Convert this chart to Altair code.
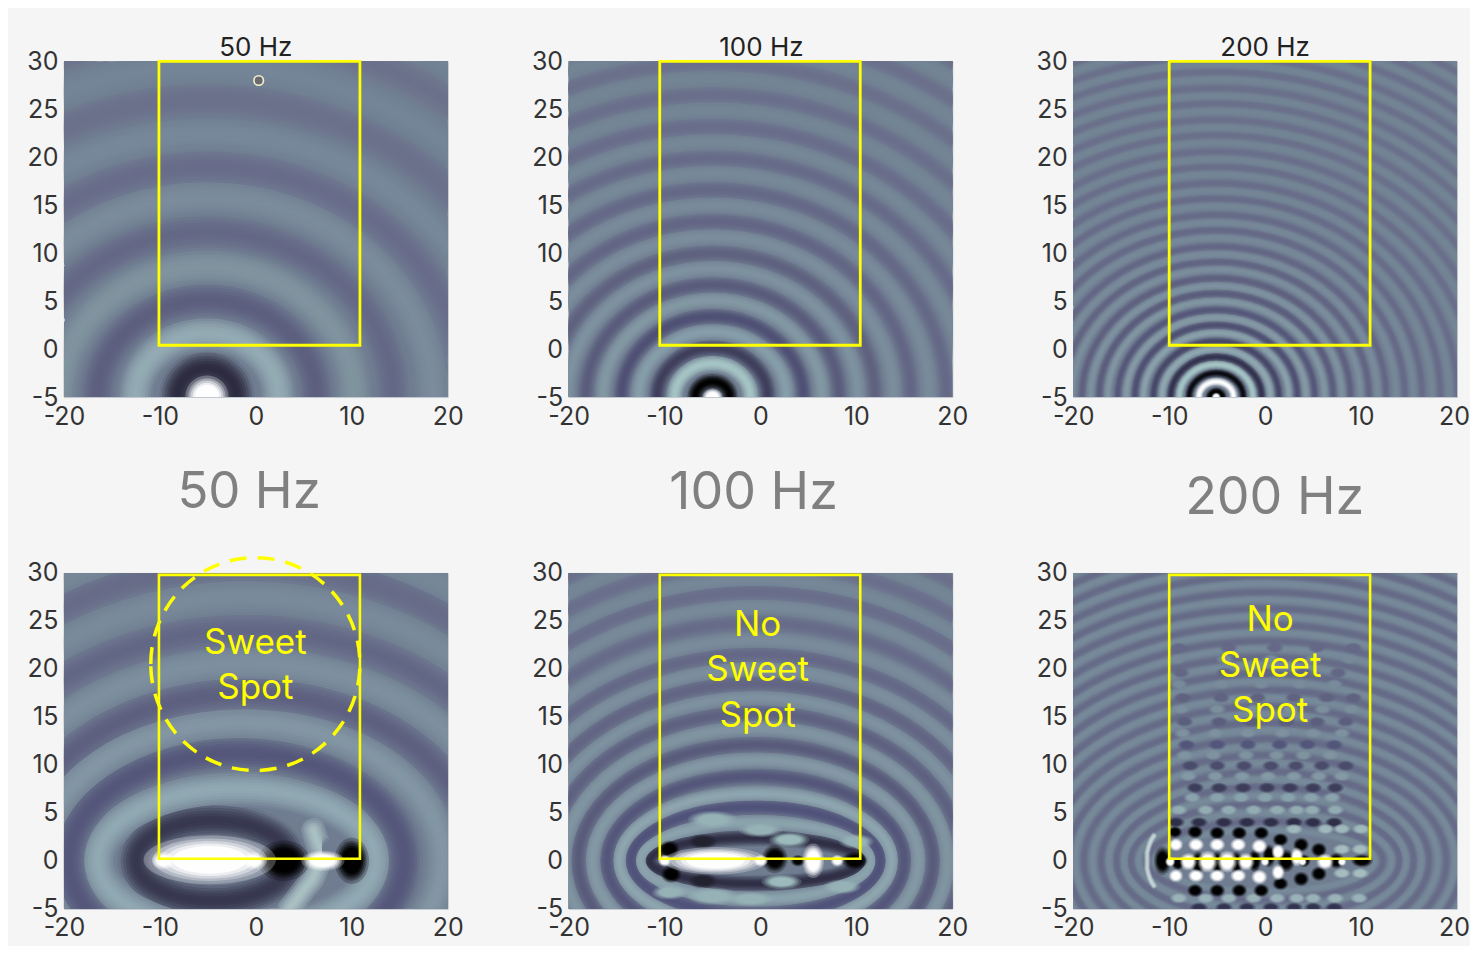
import math
import altair as alt
import pandas as pd

# ---------- values (data units of the panels) ----------
X_TICKS = [-20, -10, 0, 10, 20]
Y_TICKS = [-5, 0, 5, 10, 15, 20, 25, 30]
FIELD = "#707d91"

# top row: concentric crests around the source (vertical radius, colour)
T50_B = [3.0, 6.6, 10.1, 13.6, 17.2, 20.8, 24.0, 27.4, 31.0, 34.4, 38.0, 41.4]
T50_C = ["#2d2b3f", "#93abb3", "#5d5f7f", "#80949f", "#646886", "#7b8c9c", "#686c8a", "#768899", "#6b708b", "#738597", "#6c718b", "#728496"]
T100_B = [1.6, 3.5, 5.1, 6.8, 8.4, 10.1, 11.7, 13.4, 15.0, 16.7, 18.3, 20.0, 21.6, 23.3, 24.9, 26.6, 28.2, 29.9, 31.5, 33.2, 34.8, 36.5, 38.1, 39.8, 41.4]
T100_C = ["#000000", "#a5c4c4", "#3f3f5c", "#869ea9", "#4f5074", "#8298a3", "#5a5c7c", "#7e92a0", "#5f627f", "#7b8e9d",
          "#636685", "#798b9b", "#656987", "#778999", "#676b89", "#768898", "#696d8a", "#748696", "#6a6f8b", "#738595", "#6b708b",
          "#738595", "#6b708b", "#738595", "#6b708b"]
T200_B = [0.6, 1.6, 2.5, 3.4, 4.2, 5.0, 5.8, 6.7, 7.5, 8.3, 9.1, 10.0, 10.8, 11.6, 12.4, 13.3, 14.1, 14.9, 15.7, 16.6,
          17.4, 18.2, 19.0, 19.9, 20.7, 21.5, 22.3, 23.2, 24.0, 24.8, 25.6, 26.5, 27.3, 28.1, 28.9, 29.8, 30.6, 31.4, 32.2, 33.1, 33.9, 34.7,
          35.5, 36.4, 37.2, 38.0, 38.8, 39.7, 40.5, 41.3]
T200_C = ["#000000", "#ffffff", "#0a0a12", "#a5c5c5", "#33334e", "#8fa8b0", "#474868", "#8aa1ab", "#4f5072", "#859aa5",
          "#56587a", "#8196a2", "#5b5d7c", "#7e92a0", "#5f617f", "#7b8e9d", "#626582", "#798b9b", "#646785", "#778999",
          "#666a87", "#768898", "#676b88", "#758797", "#686c89", "#748696", "#696d8a", "#748696", "#6a6e8a", "#738595",
          "#6a6f8b", "#738595", "#6b708b", "#738595", "#6b708b", "#738595", "#6b708b", "#738595", "#6b708b", "#738595", "#6b708b", "#738595",
          "#6b708b", "#738595", "#6b708b", "#738595", "#6b708b", "#738595", "#6b708b", "#738595"]

# bottom row: oval crests (centre x, horizontal radius, vertical radius, colour)
B50_RINGS = [(-4.5, 8.0, 4.2, "#37374f"), (-2, 14.5, 7.5, "#90a9b2"), (-2, 17.5, 11.2, "#54567a"), (-1.5, 21, 14.4, "#8296a3"),
             (-1, 24, 17.4, "#5e6080"), (-1, 27.5, 20.6, "#7d909f"), (-1, 31, 24, "#636786"), (-1, 34, 27.5, "#798b9b"),
             (-1, 37, 30.8, "#676b88"), (-1, 40, 33.5, "#768898"), (-1, 43, 36.8, "#6a6e8a")]
B100_RINGS = [(-0.5, 11, 2.4, "#2f2e45"), (-0.5, 12, 4.0, "#8ba3ad"), (-0.5, 13, 5.6, "#50527a"), (-0.5, 14.2, 7.0, "#8ea6af"),
              (-0.5, 15.5, 8.8, "#54567a"), (-0.5, 17, 10.5, "#8499a5"), (-0.5, 18.5, 12.1, "#595b7b"), (-0.5, 20, 13.8, "#8095a1"),
              (-0.5, 21.5, 15.4, "#5e6180"), (-0.5, 23, 17, "#7e92a0"), (-0.5, 24.5, 18.5, "#626583"), (-0.5, 26, 20, "#7c8f9e"),
              (-0.5, 27.5, 21.5, "#656887"), (-0.5, 29, 23, "#7a8c9c"), (-0.5, 30.5, 24.8, "#676b89"), (-0.5, 32, 26.5, "#788a9a"),
              (-0.5, 33.5, 28, "#696d8a"), (-0.5, 35, 29.3, "#768898"), (-0.5, 36.5, 31, "#6a6f8b"), (-0.5, 38, 32.5, "#748696"),
              (-0.5, 39.5, 34, "#6b708b"), (-0.5, 41, 35.5, "#738595")]
B200_A = [11.4, 12.3, 13.2, 14.0, 14.7, 15.5, 16.3, 17.1, 18.0, 18.9, 19.8, 20.6, 21.5, 22.3, 23.2, 24.0, 24.9, 25.7, 26.6, 27.4,
          28.3, 29.1, 30.0, 30.8, 31.7, 32.5, 33.4, 34.2, 35.1, 35.9, 36.8, 37.6, 38.5, 39.3, 40.2, 41.0, 41.9]
B200_B = [3.2, 4.1, 5.0, 5.9, 6.8, 7.7, 8.5, 9.3, 10.2, 11.0, 11.9, 12.7, 13.6, 14.4, 15.3, 16.1, 17.0, 17.8, 18.7, 19.5,
          20.4, 21.2, 22.1, 22.9, 23.8, 24.6, 25.5, 26.3, 27.2, 28.0, 28.9, 29.7, 30.6, 31.4, 32.3, 33.1, 34.0]

# curved bright streaks: (colour, [(x, y), ...])
B50_STREAKS = [("#b4cdcc", [(6, 3.2), (6.9, 1.2), (6.3, -1), (5, -3), (3.5, -5)])]
B200_STREAKS = [("#d8e6e4", [(-11.6, 2.6), (-12.3, 0.8), (-12.3, -0.8), (-11.6, -2.6)])]

# spots: (x, y, horizontal radius, vertical radius, colour)
T50_SPOTS = [(-5.1, -5, 1.5, 1.5, "#ffffff")]
T100_SPOTS = [(-5, -5, 0.7, 0.6, "#ffffff")]
T200_SPOTS = [(-5.1, -5, 0.3, 0.3, "#ffffff")]
B50_SPOTS = [(2.9, 0, 1.8, 1.4, "#000000"), (10, 0, 1.2, 1.6, "#000000"), (-4.8, 0.1, 4.6, 1.7, "#ffffff"), (-9.6, 0, 0.8, 0.6, "#ffffff"),
             (-0.2, 0, 0.8, 0.6, "#ffffff"), (7, 0, 1.5, 0.7, "#ffffff")]
B100_SPOTS = [(-5, 4.3, 1.7, 0.6, "#97b2b6"), (-5, -3.7, 1.7, 0.6, "#97b2b6"), (0, 3.2, 1.5, 0.5, "#97b2b6"), (3, 2.2, 1.4, 0.5, "#9dbabc"),
              (2.2, -2.2, 1.4, 0.5, "#9dbabc"), (-1, -4, 1.5, 0.5, "#97b2b6"), (-9.5, -3.3, 1.2, 0.5, "#97b2b6"), (10, 2, 1.2, 0.5, "#97b2b6"), (8.5, -2.7, 1.3, 0.5, "#97b2b6"),
              (-9.5, 1.2, 0.7, 0.6, "#000000"), (-9.3, -1.4, 0.7, 0.6, "#000000"), (-6, 2, 1.0, 0.5, "#22222f"), (-6, -2.1, 1.0, 0.5, "#22222f"),
              (1.5, 0.2, 0.9, 1.0, "#000000"), (3.9, 0, 0.5, 0.4, "#000000"), (9.8, 0, 0.9, 0.6, "#000000"),
              (-4.7, 0, 3.6, 0.95, "#ffffff"), (-10, 0, 0.45, 0.4, "#ffffff"), (0, 0, 0.5, 0.4, "#ffffff"), (5.5, 0, 0.75, 1.2, "#ffffff"), (8, 0, 0.45, 0.4, "#ffffff")]
B200_BLACK = [(-10.7, 0, 0.6, 1.0), (-9.1, -0.3, 0.45, 0.45), (-7, -0.2, 0.45, 0.8), (-5, -0.2, 0.45, 0.8), (-3, -0.2, 0.45, 0.8), (-1.1, 0, 0.45, 0.8),
              (0.4, 0.5, 0.45, 0.8), (2.2, 0, 0.6, 0.8), (4.06, 0, 0.45, 0.45), (7.4, 0, 0.55, 0.55), (10.1, 0, 0.75, 0.45),
              (-9.4, 3, 0.5, 0.4), (-7.3, 3, 0.55, 0.45), (-5, 2.9, 0.55, 0.45), (-2.7, 2.9, 0.55, 0.45), (-0.4, 2.9, 0.55, 0.45), (1.6, 2.2, 0.55, 0.45), (3.75, 1.67, 0.55, 0.5), (5.6, 1.15, 0.55, 0.5),
              (-7.3, -3.1, 0.55, 0.45), (-5, -3.1, 0.55, 0.45), (-2.7, -3.1, 0.55, 0.45), (-0.4, -3.1, 0.55, 0.45), (1.6, -2.4, 0.55, 0.45), (3.75, -1.9, 0.55, 0.5), (5.6, -1.35, 0.55, 0.5)]
B200_WHITE = [(-9.9, -0.1, 0.35, 0.35), (-8, -0.1, 0.6, 0.6), (-6, -0.1, 0.7, 0.75), (-3.95, -0.1, 0.7, 0.75), (-2, -0.1, 0.6, 0.6), (0, -0.1, 0.3, 0.3),
              (3.9, -0.1, 0.3, 0.3), (6.25, -0.1, 0.6, 0.55), (8, -0.1, 0.3, 0.3), (3.3, 0.4, 0.45, 0.65),
              (-9.3, 1.67, 0.5, 0.45), (-7.2, 1.67, 0.55, 0.45), (-5, 1.67, 0.55, 0.45), (-2.8, 1.67, 0.55, 0.45), (-0.6, 1.5, 0.55, 0.5), (1.35, 0.9, 0.45, 0.55),
              (-9.3, -1.56, 0.5, 0.45), (-7.2, -1.56, 0.55, 0.45), (-5, -1.56, 0.55, 0.45), (-2.8, -1.56, 0.55, 0.45), (-0.6, -1.7, 0.55, 0.5), (1.35, -1.2, 0.45, 0.55)]
# lattice rows of the 200 Hz interference: (y, colour, [x, ...])
B200_ROWS = [(5.3, "#93adb3", [-9, -6.2, -3.8, -1.2, 1.25, 3.3, 4.9, 7.3]), (4.0, "#2f2f48", [-9.3, -6.9, -4.3, -1.9, 0.6, 3, 5, 7.2]),
             (3.3, "#a0b9bc", [3.0, 6.3, 8, 10]), (1.2, "#a5bec0", [8, 9.9]), (-1.3, "#a5bec0", [8, 9.9]),
             (-3.9, "#9ab3b8", [-9, -6.2, -3.8, -1.2, 1.25, 3.3, 5, 7.3, 9.8]), (-4.9, "#333350", [-6.9, -4.3, -1.9, 0.6, 3, 5, 7.2]),
             (6.6, "#8aa3ad", [-7.6, -5.0, -2.5, 0, 2.4, 4.8, 7.0]), (7.6, "#3d3d5a", [-7.3, -4.8, -2.3, 0.2, 2.6, 5, 7.3]),
             (8.8, "#8399a5", [-8, -5.2, -2.4, 0.3, 3, 5.6, 8]), (9.9, "#4a4b6b", [-7.8, -5.0, -2.2, 0.6, 3.2, 5.9, 8.4]),
             (11, "#7f94a0", [-8.4, -5.4, -2, 1.2, 4, 6.8]), (12.1, "#53557a", [-8.2, -5, -1.8, 1.5, 4.4, 7.2]),
             (13.3, "#7d919f", [-8.6, -5.2, -1.8, 1.8, 5, 8]), (14.5, "#5b5e7d", [-8.4, -4.8, -1.4, 2.2, 5.4, 8.4]),
             (15.8, "#7b8f9d", [-8.8, -5, -1.2, 2.6, 6, 9]), (17, "#5f627f", [-8.6, -4.6, -0.8, 3, 6.4, 9.2]),
             (18.4, "#798c9b", [-9, -4.6, -0.4, 3.6, 7.2]), (19.6, "#636684", [-8.8, -4.2, 0, 4, 7.6]),
             (21, "#788a9a", [-9.2, -4.2, 0.6, 5, 8.8]), (22.2, "#656887", [-9, -3.8, 1, 5.4, 9.2])]

# annotation values
BOXES = [(-10.1, 10.85, 0.4, 30), (-10.5, 10.4, 0.4, 30), (-10, 10.94, 0.4, 30), (-10.1, 10.85, 0.2, 29.8), (-10.5, 10.4, 0.2, 29.8), (-10, 10.94, 0.2, 29.8)]
TOP_TITLES = [("50 Hz", 0), ("100 Hz", 0.1), ("200 Hz", 0)]
BIG_TITLES = [("50 Hz", -0.7, 38.35, 51), ("100 Hz", -0.72, 38.35, 52), ("200 Hz", 1, 37.8, 52)]
LABELS = [[("Sweet", -0.05, 22.7), ("Spot", -0.05, 18.0)],
          [("No", -0.3, 24.6), ("Sweet", -0.3, 19.9), ("Spot", -0.3, 15.1)],
          [("No", 0.52, 25.1), ("Sweet", 0.52, 20.3), ("Spot", 0.52, 15.6)]]
MARKER = [(0.3, 28, 0.5)]
DASHED = [(-0.05, 20.5, 10.9, 11.1)]

# ---------- styling and helpers ----------
FONT = "Inter"
ASPECT_TOP = 0.885
PX = 9.6
K = 0.5523
XS = alt.Scale(domain=[-20, 20], nice=False, zero=False)
YS = alt.Scale(domain=[-5, 30], nice=False, zero=False)
SS = alt.Scale(domain=[0, 1], range=[0, (2 * PX) ** 2])
LABEL_EXPR = "'' + datum.value"
AX_Y = alt.Axis(values=Y_TICKS, title=None, grid=False, ticks=False, domain=False, labelFont=FONT, labelFontSize=25,
                labelColor="#333333", labelPadding=6, labelFlush=False, labelOverlap=False, labelExpr=LABEL_EXPR)
Y = alt.Y("y:Q", scale=YS, axis=AX_Y)
SOFT_F = [1.0, 0.85, 0.7, 0.55, 0.4, 0.25, 0.1]
SPOT_SOFT = [(1.5, 0.25), (1.3, 0.3), (1.15, 0.4), (1.0, 0.6), (0.85, 0.9)]
STREAK_SOFT = [(1.0, 0.25), (0.8, 0.25), (0.6, 0.3), (0.4, 0.35), (0.2, 0.4)]


def x_channel(last_col):
    kw = dict(values=X_TICKS, title=None, grid=False, ticks=False, domain=False, labelFont=FONT, labelFontSize=25,
              labelColor="#333333", labelPadding=7, labelFlush=False, labelOverlap=False, labelExpr=LABEL_EXPR)
    if last_col:
        kw["labelOffset"] = alt.expr("datum.value === 20 ? -3 : 0")
    return alt.X("x:Q", scale=XS, axis=alt.Axis(**kw))


def mix(c, s):
    base = [int(FIELD[i:i + 2], 16) for i in (1, 3, 5)]
    col = [int(c[i:i + 2], 16) for i in (1, 3, 5)]
    return "#" + "".join(f"{round(p + (q - p) * s):02x}" for p, q in zip(base, col))


def oval(ratio):
    b = ratio
    ka, kb = K, K * b
    return (f"M-1,0C-1,{-kb} {-ka},{-b} 0,{-b}C{ka},{-b} 1,{-kb} 1,0"
            f"C1,{kb} {ka},{b} 0,{b}C{-ka},{b} -1,{kb} -1,0Z")


def rings_chart(rings, width, X):
    rows = []
    for f in SOFT_F:  # widest strokes of every ring first, so crests stay on top
        strength = math.cos(math.pi / 2 * (f - 0.075))
        for cx, cy, a, b, c in rings:
            rows.append(dict(x=cx, y=cy, area=a * a, shape=oval(round(b / a, 3)), c=mix(c, strength), w=width * f))
    return alt.Chart(pd.DataFrame(rows)).mark_point(filled=False, clip=True, opacity=1).encode(
        x=X, y=Y, size=alt.Size("area:Q", scale=SS, legend=None), shape=alt.Shape("shape:N", scale=None),
        stroke=alt.Stroke("c:N", scale=None), strokeWidth=alt.StrokeWidth("w:Q", scale=None))


def spots_chart(spots, X):
    rows = []
    for x, y, a, b, c in spots:
        for f, o in SPOT_SOFT:
            rows.append(dict(x=x, y=y, area=(a * f) ** 2, shape=oval(round(b / a, 3)), c=c, o=o))
    return alt.Chart(pd.DataFrame(rows)).mark_point(filled=True, clip=True, strokeWidth=0).encode(
        x=X, y=Y, size=alt.Size("area:Q", scale=SS, legend=None), shape=alt.Shape("shape:N", scale=None),
        fill=alt.Fill("c:N", scale=None), opacity=alt.Opacity("o:Q", scale=None))


def streaks_chart(streaks, width, X):
    rows = []
    for i, (c, pts) in enumerate(streaks):
        for j, (f, o) in enumerate(STREAK_SOFT):
            for s, (x, y) in enumerate(pts):
                rows.append(dict(x=x, y=y, s=s, g=f"{i}-{j}", c=c, w=width * f, o=o))
    return alt.Chart(pd.DataFrame(rows)).mark_line(clip=True, interpolate="monotone", strokeCap="round").encode(
        x=X, y=alt.Y("y:Q", scale=YS, axis=AX_Y, sort=None), order="s:Q", detail="g:N",
        stroke=alt.Stroke("c:N", scale=None), strokeWidth=alt.StrokeWidth("w:Q", scale=None), opacity=alt.Opacity("o:Q", scale=None))


def box_chart(box, width, X):
    d = pd.DataFrame([dict(x=box[0], x2=box[1], y=box[2], y2=box[3])])
    return alt.Chart(d).mark_rect(fillOpacity=0, stroke="#ffff00", strokeWidth=width).encode(x=X, x2="x2:Q", y=Y, y2="y2:Q")


def text_chart(rows, color, size, X):
    d = pd.DataFrame([dict(t=t, x=x, y=y) for t, x, y in rows])
    return alt.Chart(d).mark_text(font=FONT, fontSize=size, color=color, align="center", baseline="middle").encode(x=X, y=Y, text="t:N")


def panel(*layers):
    return alt.layer(*layers).properties(width=384, height=336)


top_rings = [
    [(-5.1, -5, 1.13 * b if i else 3.1, b, c) for i, (b, c) in enumerate(zip(T50_B, T50_C))],
    [(-5, -5, b / ASPECT_TOP, b, c) for b, c in zip(T100_B, T100_C)],
    [(-5.1, -5, b / ASPECT_TOP, b, c) for b, c in zip(T200_B, T200_C)],
]
top_spots = [T50_SPOTS, T100_SPOTS, T200_SPOTS]
top_width = [36, 18, 9]

panels = []
for i in range(3):
    Xc = x_channel(i == 2)
    layers = [rings_chart(top_rings[i], top_width[i], Xc), spots_chart(top_spots[i], Xc), box_chart(BOXES[i], 2.8, Xc)]
    if i == 0:
        marker = alt.Chart(pd.DataFrame([dict(x=m[0], y=m[1], area=m[2] ** 2) for m in MARKER])).mark_point(
            filled=False, fill="#6a6a70", fillOpacity=1, stroke="#f5f0d0", strokeWidth=1.6, opacity=1, shape="circle").encode(
            x=Xc, y=Y, size=alt.Size("area:Q", scale=SS, legend=None))
        layers.append(marker)
    layers.append(text_chart([(TOP_TITLES[i][0], TOP_TITLES[i][1], 31.4)], "#222222", 26, Xc))
    panels.append(panel(*layers))

b200_rings = []
for k, (a, b) in enumerate(zip(B200_A, B200_B)):
    b200_rings.append((0, 0, a, b, "#778a9a" if k % 2 == 0 else "#666b88"))
b200_spots = []
for y, c, xs in B200_ROWS:
    for x in xs:
        b200_spots.append((x, y, 0.62, 0.36, c))
b200_spots += [(x, y, a, b, "#000000") for x, y, a, b in B200_BLACK]
b200_spots += [(x, y, a, b, "#ffffff") for x, y, a, b in B200_WHITE]

bottom = [
    ([(cx, 0, a, b, c) for cx, a, b, c in B50_RINGS], 36, B50_STREAKS, 24, B50_SPOTS),
    ([(cx, 0, a, b, c) for cx, a, b, c in B100_RINGS], 18, [], 0, B100_SPOTS),
    (b200_rings, 9, B200_STREAKS, 6, b200_spots),
]
for i, (rings, w, streaks, sw, spots) in enumerate(bottom):
    t = BIG_TITLES[i]
    Xc = x_channel(i == 2)
    layers = [rings_chart(rings, w, Xc)]
    if streaks:
        layers.append(streaks_chart(streaks, sw, Xc))
    layers += [spots_chart(spots, Xc), box_chart(BOXES[3 + i], 2.6, Xc)]
    if i == 0:
        dashed = alt.Chart(pd.DataFrame([dict(x=d[0], y=d[1], area=d[2] ** 2, shape=oval(round(d[3] / d[2], 3))) for d in DASHED])).mark_point(
            filled=False, stroke="#ffff00", strokeWidth=3.5, strokeDash=[17, 11], opacity=1).encode(
            x=Xc, y=Y, size=alt.Size("area:Q", scale=SS, legend=None), shape=alt.Shape("shape:N", scale=None))
        layers.append(dashed)
    layers.append(text_chart(LABELS[i], "#ffff00", 35, Xc))
    layers.append(text_chart([(t[0], t[1], t[2])], "#808080", t[3], Xc))
    panels.append(panel(*layers))

chart = alt.concat(*panels, columns=3, spacing={"column": 121, "row": 176}, bounds="flush").properties(
    padding={"left": 18, "top": 26, "right": -1, "bottom": 4}, background="#f5f5f5"
).configure_view(fill=FIELD, stroke="#c5c8d0", strokeWidth=1)

chart.save("out.html", embed_options={"renderer": "svg", "actions": False})
